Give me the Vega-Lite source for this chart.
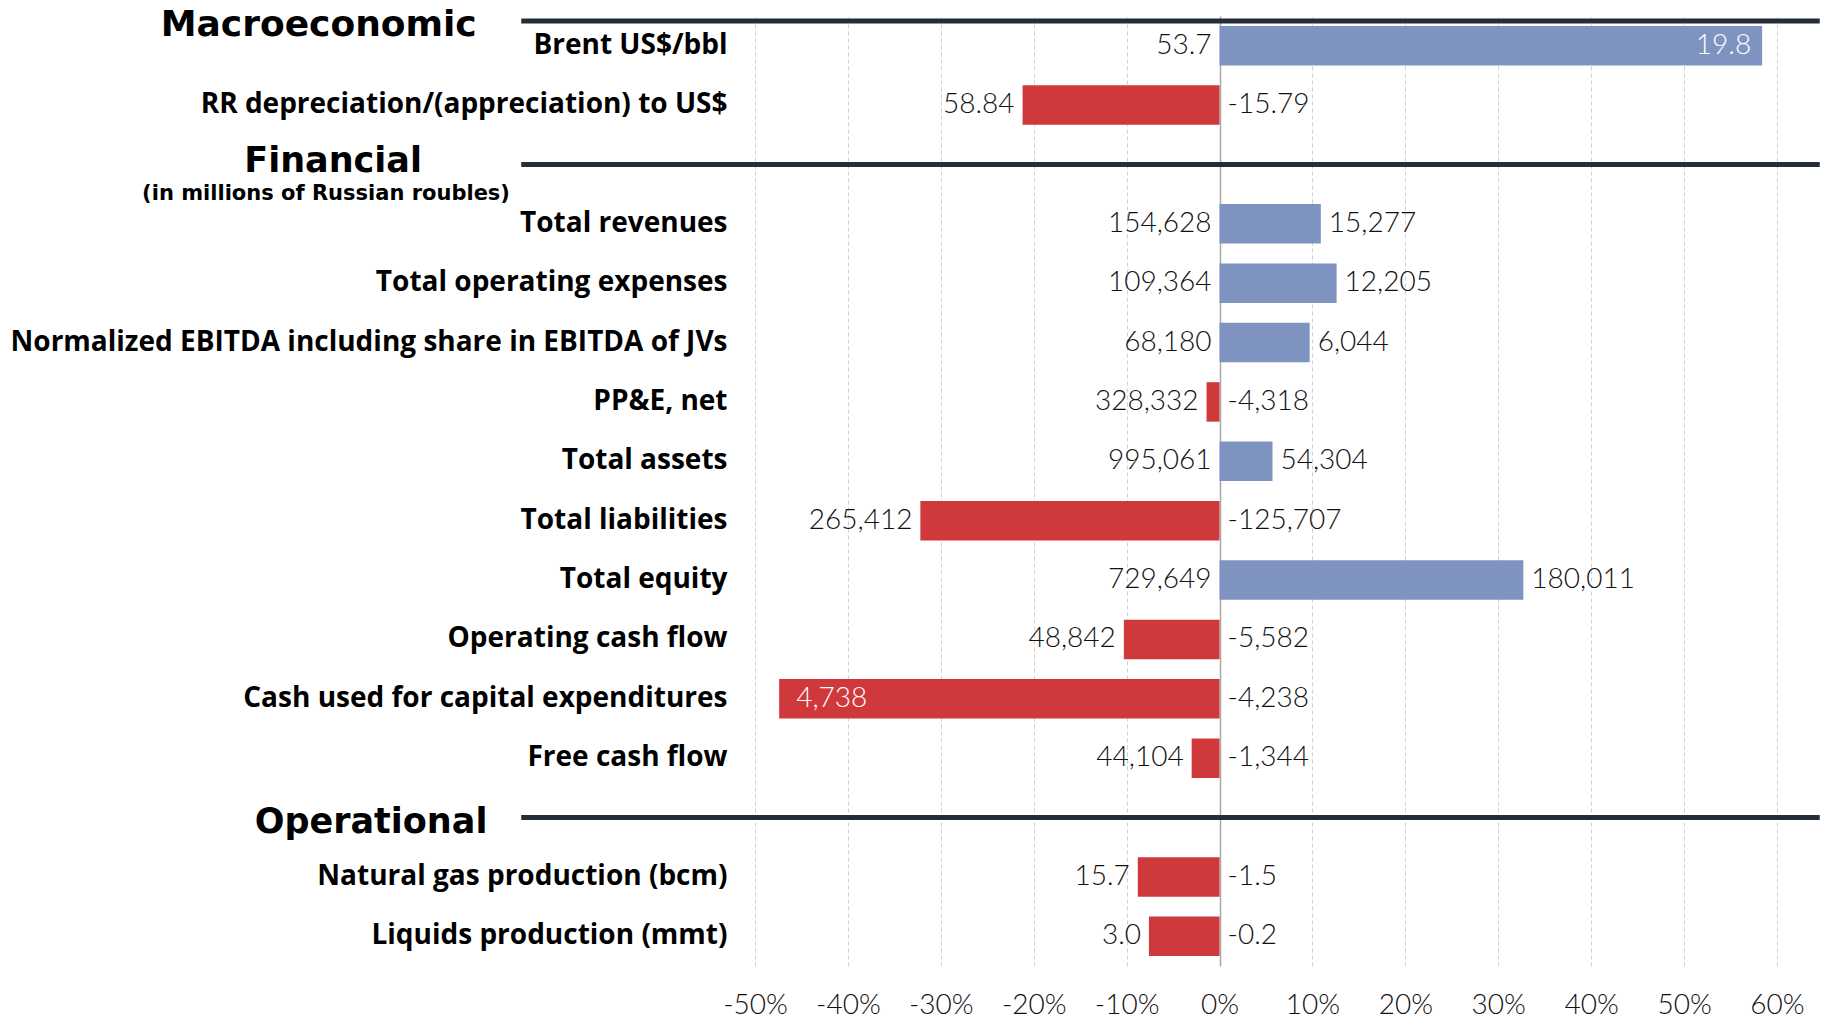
{
  "$schema": "https://vega.github.io/schema/vega-lite/v6.json",
  "autosize": {"type": "none"},
  "width": 1022,
  "height": 950,
  "padding": {"left": 755, "top": 16, "right": 52, "bottom": 52},
  "background": "white",
  "config": {"view": {"stroke": null}, "font": "Lato"},
  "datasets": {
    "rows": [
      {"cat": "Brent US$/bbl", "pct": 0.584, "base": "53.7", "chg": "19.8"},
      {"cat": "RR depreciation/(appreciation) to US$", "pct": -0.212, "base": "58.84", "chg": "-15.79"},
      {"cat": "Total revenues", "pct": 0.109, "base": "154,628", "chg": "15,277"},
      {"cat": "Total operating expenses", "pct": 0.126, "base": "109,364", "chg": "12,205"},
      {"cat": "Normalized EBITDA including share in EBITDA of JVs", "pct": 0.097, "base": "68,180", "chg": "6,044"},
      {"cat": "PP&E, net", "pct": -0.014, "base": "328,332", "chg": "-4,318"},
      {"cat": "Total assets", "pct": 0.057, "base": "995,061", "chg": "54,304"},
      {"cat": "Total liabilities", "pct": -0.322, "base": "265,412", "chg": "-125,707"},
      {"cat": "Total equity", "pct": 0.327, "base": "729,649", "chg": "180,011"},
      {"cat": "Operating cash flow", "pct": -0.103, "base": "48,842", "chg": "-5,582"},
      {"cat": "Cash used for capital expenditures", "pct": -0.474, "base": "4,738", "chg": "-4,238"},
      {"cat": "Free cash flow", "pct": -0.030, "base": "44,104", "chg": "-1,344"},
      {"cat": "Natural gas production (bcm)", "pct": -0.088, "base": "15.7", "chg": "-1.5"},
      {"cat": "Liquids production (mmt)", "pct": -0.076, "base": "3.0", "chg": "-0.2"}
    ],
    "seps": [{"cat": "_fin"}, {"cat": "_op"}],
    "one": [{"k": 1}]
  },
  "data": {"name": "rows"},
  "encoding": {
    "y": {
      "field": "cat",
      "type": "nominal",
      "sort": null,
      "scale": {
        "domain": ["Brent US$/bbl", "RR depreciation/(appreciation) to US$", "_fin", "Total revenues", "Total operating expenses", "Normalized EBITDA including share in EBITDA of JVs", "PP&E, net", "Total assets", "Total liabilities", "Total equity", "Operating cash flow", "Cash used for capital expenditures", "Free cash flow", "_op", "Natural gas production (bcm)", "Liquids production (mmt)"],
        "paddingInner": 0,
        "paddingOuter": 0
      },
      "axis": {
        "title": null,
        "domain": false,
        "ticks": false,
        "grid": false,
        "labelPadding": 28,
        "labelFont": "Open Sans",
        "labelFontSize": 28,
        "labelFontWeight": "bold",
        "labelColor": "#000000",
        "labelLimit": 1200,
        "labelExpr": "indexof(datum.value, '_') == 0 ? '' : datum.value"
      }
    }
  },
  "layer": [
    {
      "mark": {"type": "bar", "height": {"band": 0.665}},
      "encoding": {
        "x": {
          "field": "pct",
          "type": "quantitative",
          "scale": {"domain": [-0.5, 0.6], "nice": false, "zero": false},
          "axis": {
            "title": null,
            "values": [-0.5, -0.4, -0.3, -0.2, -0.1, 0, 0.1, 0.2, 0.3, 0.4, 0.5, 0.6],
            "labelExpr": "(datum.value < -0.0001 ? '-' : '') + format(abs(datum.value), '.0%')",
            "domain": false,
            "ticks": false,
            "grid": true,
            "gridColor": {"condition": {"test": "abs(datum.value) < 0.0001", "value": "#a8a8a8"}, "value": "#cfcfcf"},
            "gridDash": {"condition": {"test": "abs(datum.value) < 0.0001", "value": []}, "value": [4, 3]},
            "gridWidth": {"condition": {"test": "abs(datum.value) < 0.0001", "value": 1.5}, "value": 1},
            "labelFlush": false,
            "labelOverlap": false,
            "labelFont": "Lato",
            "labelFontSize": 28,
            "labelFontWeight": 300,
            "labelColor": "#111111",
            "labelPadding": 25
          }
        },
        "x2": {"datum": 0},
        "color": {"condition": {"test": "datum.pct > 0", "value": "#7F93C0"}, "value": "#CF393B"}
      }
    },
    {
      "transform": [{"filter": "datum.pct >= 0"}],
      "mark": {"type": "text", "align": "right", "baseline": "middle", "dx": -8, "font": "Lato", "fontSize": 28, "fontWeight": 300, "color": "#111111"},
      "encoding": {"x": {"datum": 0}, "text": {"field": "base"}}
    },
    {
      "transform": [{"filter": "datum.pct < 0 && datum.cat != 'Cash used for capital expenditures'"}],
      "mark": {"type": "text", "align": "right", "baseline": "middle", "dx": -8, "font": "Lato", "fontSize": 28, "fontWeight": 300, "color": "#111111"},
      "encoding": {"x": {"field": "pct", "type": "quantitative"}, "text": {"field": "base"}}
    },
    {
      "transform": [{"filter": "datum.cat == 'Cash used for capital expenditures'"}],
      "mark": {"type": "text", "align": "left", "baseline": "middle", "dx": 17, "font": "Lato", "fontSize": 28, "fontWeight": 300, "color": "#ffffff"},
      "encoding": {"x": {"field": "pct", "type": "quantitative"}, "text": {"field": "base"}}
    },
    {
      "transform": [{"filter": "datum.pct > 0 && datum.cat != 'Brent US$/bbl'"}],
      "mark": {"type": "text", "align": "left", "baseline": "middle", "dx": 8, "font": "Lato", "fontSize": 28, "fontWeight": 300, "color": "#111111"},
      "encoding": {"x": {"field": "pct", "type": "quantitative"}, "text": {"field": "chg"}}
    },
    {
      "transform": [{"filter": "datum.pct < 0"}],
      "mark": {"type": "text", "align": "left", "baseline": "middle", "dx": 8, "font": "Lato", "fontSize": 28, "fontWeight": 300, "color": "#111111"},
      "encoding": {"x": {"datum": 0}, "text": {"field": "chg"}}
    },
    {
      "transform": [{"filter": "datum.cat == 'Brent US$/bbl'"}],
      "mark": {"type": "text", "align": "right", "baseline": "middle", "dx": -11, "font": "Lato", "fontSize": 28, "fontWeight": 300, "color": "#ffffff"},
      "encoding": {"x": {"field": "pct", "type": "quantitative"}, "text": {"field": "chg"}}
    },
    {
      "data": {"name": "seps"},
      "mark": {"type": "rule", "strokeWidth": 5, "color": "#252D38"},
      "encoding": {"x": {"datum": -0.7516}, "x2": {"datum": 0.646}}
    },
    {
      "data": {"name": "one"},
      "mark": {"type": "rule", "strokeWidth": 5, "color": "#252D38"},
      "encoding": {"x": {"datum": -0.7516}, "x2": {"datum": 0.646}, "y": {"datum": "Brent US$/bbl", "bandPosition": 0.085}}
    },
    {
      "data": {"name": "one"},
      "mark": {"type": "text", "text": "Macroeconomic", "align": "center", "baseline": "alphabetic", "font": "DejaVu Sans", "fontSize": 36, "fontWeight": "bold", "color": "#000000"},
      "encoding": {"x": {"datum": -0.9696}, "y": {"datum": "Brent US$/bbl", "bandPosition": 0.337}}
    },
    {
      "data": {"name": "one"},
      "mark": {"type": "text", "text": "Financial", "align": "center", "baseline": "alphabetic", "font": "DejaVu Sans", "fontSize": 35, "fontWeight": "bold", "color": "#000000"},
      "encoding": {"x": {"datum": -0.9541}, "y": {"datum": "_fin", "bandPosition": 0.627}}
    },
    {
      "data": {"name": "one"},
      "mark": {"type": "text", "text": "(in millions of Russian roubles)", "align": "center", "baseline": "alphabetic", "font": "DejaVu Sans", "fontSize": 21, "fontWeight": "bold", "color": "#000000"},
      "encoding": {"x": {"datum": -0.9617}, "y": {"datum": "Total revenues", "bandPosition": 0.099}}
    },
    {
      "data": {"name": "one"},
      "mark": {"type": "text", "text": "Operational", "align": "center", "baseline": "alphabetic", "font": "DejaVu Sans", "fontSize": 35, "fontWeight": "bold", "color": "#000000"},
      "encoding": {"x": {"datum": -0.9133}, "y": {"datum": "_op", "bandPosition": 0.754}}
    }
  ]
}
